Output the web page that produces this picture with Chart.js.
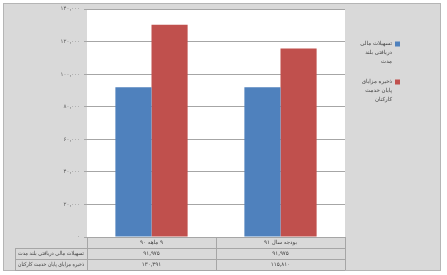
<!DOCTYPE html>
<html>
<head>
<meta charset="utf-8">
<script src="https://cdn.jsdelivr.net/npm/chart.js@4/dist/chart.umd.min.js"></script>
<style>
body { margin: 0; background: #fff; }
#wrap { position: relative; width: 447px; height: 275px; }
#frame { position: absolute; left: 3px; top: 3px; width: 436px; height: 266px; background: #d9d9d9; border: 1px solid #b5b5b5; }
canvas { display: block; position: absolute; left: 0; top: 0; }
</style>
</head>
<body>
<div id="wrap">
<div id="frame"></div>
<canvas id="chart" width="447" height="275"></canvas>
</div>
<script>
// data
var categories = ['۹ ماهه ۹۰', 'بودجه سال ۹۱'];
var seriesNames = ['تسهیلات مالی دریافتی بلند مدت', 'ذخیره مزایای پایان خدمت کارکنان'];
var legendLines = [['تسهیلات مالی', 'دریافتی بلند', 'مدت'], ['ذخیره مزایای', 'پایان خدمت', 'کارکنان']];
var facilities = [91975, 91975];
var benefits = [130391, 115810];
var yTicks = [0, 20000, 40000, 60000, 80000, 100000, 120000, 140000];

var colors = ['#4f81bd', '#c0504d'];
var font = '"DejaVu Sans", sans-serif';

function toFa(n){
    return String(n).replace(/\B(?=(\d{3})+(?!\d))/g, ',').replace(/\d/g, function(d){ return '۰۱۲۳۴۵۶۷۸۹'[d]; });
}

// white plot area
var framePlugin = {
    id: 'plotBg',
    beforeDraw: function(chart){
        var ctx = chart.ctx;
        var a = chart.chartArea;
        ctx.save();
        ctx.fillStyle = '#ffffff';
        ctx.fillRect(a.left, a.top, a.right - a.left, a.bottom - a.top);
        ctx.restore();
    }
};

// data table under the plot + legend on the right
var tablePlugin = {
    id: 'dataTable',
    afterDraw: function(chart){
        var ctx = chart.ctx;
        var a = chart.chartArea;
        var xs = chart.scales.x;
        var mid = (xs.getPixelForValue(0) + xs.getPixelForValue(1)) / 2;
        var rows = [a.bottom, a.bottom + 11, a.bottom + 22, a.bottom + 33];
        var left = 15;
        ctx.save();
        ctx.strokeStyle = '#a6a6a6';
        ctx.lineWidth = 1;
        ctx.beginPath();
        ctx.moveTo(a.left, rows[0] + 0.5); ctx.lineTo(a.right, rows[0] + 0.5);
        for(var r = 1; r < 4; r++){
            ctx.moveTo(left, rows[r] + 0.5); ctx.lineTo(a.right, rows[r] + 0.5);
        }
        ctx.moveTo(left + 0.5, rows[1]); ctx.lineTo(left + 0.5, rows[3]);
        [a.left, mid, a.right].forEach(function(x){
            ctx.moveTo(Math.round(x) + 0.5, rows[0]); ctx.lineTo(Math.round(x) + 0.5, rows[3]);
        });
        ctx.stroke();

        ctx.fillStyle = '#404040';
        ctx.font = '5.5px ' + font;
        ctx.textBaseline = 'middle';
        ctx.direction = 'rtl';
        ctx.textAlign = 'center';
        var values = [facilities, benefits];
        categories.forEach(function(c, i){
            var x = xs.getPixelForValue(i);
            ctx.fillText(c, x, rows[0] + 6);
            ctx.fillText(toFa(values[0][i]), x, rows[1] + 6);
            ctx.fillText(toFa(values[1][i]), x, rows[2] + 6);
        });
        ctx.textAlign = 'right';
        seriesNames.forEach(function(s, j){
            ctx.fillText(s, a.left - 3, rows[j + 1] + 6, a.left - left - 6);
        });

        // legend
        ctx.font = '5.5px ' + font;
        legendLines.forEach(function(lines, j){
            var y0 = 44 + j * 38;
            ctx.fillStyle = colors[j];
            ctx.fillRect(395, y0 - 2.5, 5, 5);
            ctx.fillStyle = '#404040';
            ctx.textAlign = 'right';
            lines.forEach(function(t, k){
                ctx.fillText(t, 392, y0 + k * 9);
            });
        });
        ctx.restore();
    }
};

var myChart = new Chart(document.getElementById('chart'), {
    type: 'bar',
    data: {
        labels: categories,
        datasets: [{
            label: seriesNames[0],
            data: facilities,
            backgroundColor: colors[0]
        }, {
            label: seriesNames[1],
            data: benefits,
            backgroundColor: colors[1]
        }]
    },
    options: {
        responsive: false,
        animation: false,
        categoryPercentage: 0.56,
        barPercentage: 1,
        layout: {
            padding: { top: 9, right: 102, bottom: 38, left: 0 }
        },
        scales: {
            x: {
                display: false
            },
            y: {
                min: 0,
                max: 140000,
                afterFit: function(scale){ scale.width = 87; },
                afterBuildTicks: function(scale){
                    scale.ticks = yTicks.map(function(v){ return { value: v }; });
                },
                ticks: {
                    padding: 4,
                    color: '#595959',
                    font: { size: 5.5, family: font },
                    callback: function(v){ return toFa(v); }
                },
                grid: {
                    color: '#a6a6a6',
                    tickLength: 3
                },
                border: { display: false }
            }
        },
        plugins: {
            legend: { display: false },
            tooltip: { enabled: false }
        }
    },
    plugins: [framePlugin, tablePlugin]
});
</script>
</body>
</html>
